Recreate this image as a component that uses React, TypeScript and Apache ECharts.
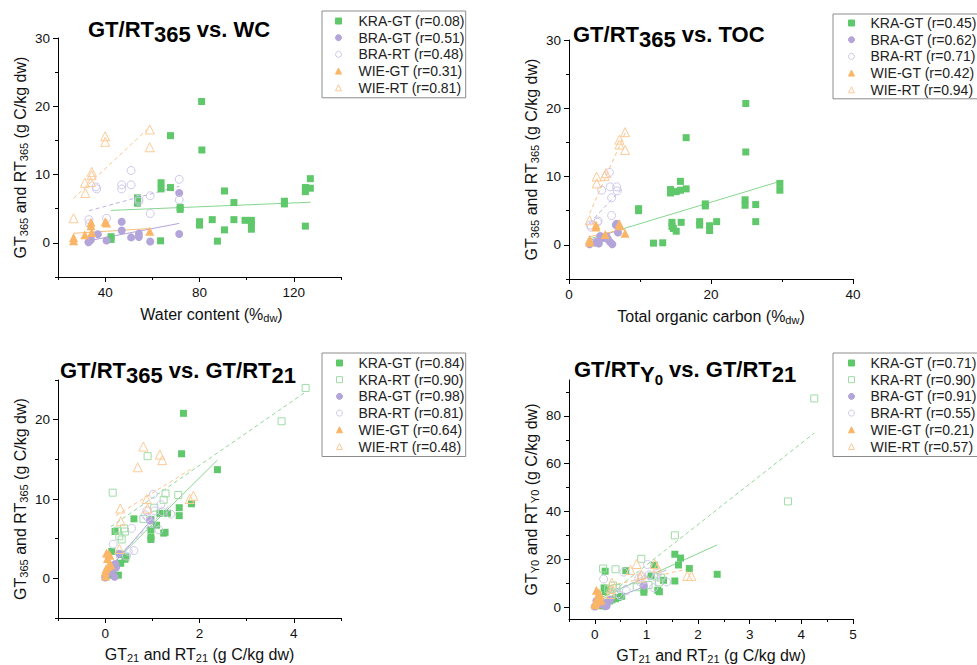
import { useEffect, useRef } from 'react';
import * as echarts from 'echarts';

// ---------- Panel A: GT/RT365 vs. water content ----------
const wcKraGT = [[42.5,0.9],[42.5,0.5],[53.7,6.6],[53.7,5.8],[63.5,0.3],[63.7,8.8],[63.7,7.9],[67.7,15.7],[67.7,8.1],[71.8,5.2],[71.8,4.9],[80.9,20.7],[81,13.6],[80,3.1],[80,2.6],[85.4,3.4],[87.6,0.25],[90.6,7.6],[90.6,1.9],[94.6,5.9],[94.6,3.4],[99.3,3.3],[102,3.3],[102,2.8],[102,2.0],[116,6.1],[116,5.7],[124.9,8.1],[124.9,7.5],[127,8.0],[127,9.4],[124.9,2.45]];
const wcBraGT = [[32.9,0.1],[33.5,0.3],[34,0.5],[36.9,1.25],[40.6,0.35],[47,3.1],[47,1.8],[51,0.8],[54.3,1.35],[54.3,0.85],[59.1,0.2],[71.4,7.3],[71.4,1.3]];
const wcBraRT = [[33.1,3.4],[33.3,2.8],[36.1,8.2],[36.4,7.9],[40.6,3.6],[47,8.5],[47,7.9],[51,10.6],[51,8.5],[54.3,6.4],[54.3,6.1],[59.1,6.9],[59.1,4.3],[71.4,9.3],[71.4,6.3]];
const wcWieGT = [[26.6,0.8],[26.6,0.3],[31.4,1.2],[34,3.0],[34,2.5],[34.3,1.5],[40,3.1],[40.6,2.9],[58.9,1.7]];
const wcWieRT = [[26.6,3.6],[31.4,8.8],[31.6,7.3],[33.9,8.9],[34.3,10.4],[34.3,9.9],[40,15.6],[40,14.8],[58.9,16.6],[58.9,14.0]];
const wcFitKraGT = [[42.4,4.75],[127.1,5.95]];
const wcFitBraGT = [[32.9,0.3],[71.4,2.85]];
const wcFitBraRT = [[33.1,4.7],[71.4,8.3]];
const wcFitWieGT = [[26.6,1.4],[59,2.1]];
const wcFitWieRT = [[26.6,6.5],[59,17]];
const wcLegend = ['KRA-GT (r=0.08)', 'BRA-GT (r=0.51)', 'BRA-RT (r=0.48)', 'WIE-GT (r=0.31)', 'WIE-RT (r=0.81)'];

// ---------- Panel B: GT/RT365 vs. TOC ----------
const tocKraGT = [[9.8,5.3],[9.8,5.0],[11.9,0.25],[13.2,0.3],[14.3,8.1],[14.3,7.6],[14.5,3.3],[14.5,2.7],[14.7,2.4],[15.1,7.8],[15.1,2.0],[15.7,9.3],[15.7,8.0],[15.8,3.3],[16.5,15.7],[16.5,8.2],[18.4,3.4],[18.4,2.9],[19.2,6.0],[19.2,5.7],[19.8,2.8],[19.8,2.1],[20.8,3.4],[24.9,20.7],[24.9,13.6],[24.8,6.6],[24.8,5.8],[26.3,5.9],[26.3,3.4],[29.7,9.0],[29.7,8.0]];
const tocBraGT = [[2.9,0.1],[3.8,0.3],[4.0,0.5],[4.4,1.3],[4.8,1.0],[5.3,1.2],[5.5,0.8],[5.8,0.4],[6.1,0.1],[6.7,3.1],[6.9,1.8],[4.2,0.2],[6.6,2.9]];
const tocBraRT = [[3.0,2.9],[3.1,2.6],[4.1,3.5],[4.0,3.3],[4.6,8.0],[5.7,10.6],[5.8,8.5],[6.0,6.9],[6.0,4.3],[6.7,8.5],[6.8,7.9]];
const tocWieGT = [[2.9,0.8],[2.9,0.4],[3.8,2.9],[3.8,2.6],[5.1,1.5],[7.1,3.1],[7.1,2.8],[7.9,1.7]];
const tocWieRT = [[2.9,3.6],[3.9,10.0],[3.9,9.0],[5.0,10.1],[5.2,10.5],[7.1,15.4],[7.1,14.7],[7.9,16.5],[7.9,13.9]];
const tocFitKraGT = [[3.0,0.9],[29.7,9.3]];
const tocFitBraGT = [[2.9,0.6],[7.0,2.2]];
const tocFitBraRT = [[2.9,3.2],[7.6,8.4]];
const tocFitWieGT = [[2.9,1.2],[7.9,2.3]];
const tocFitWieRT = [[2.9,4.6],[8.0,16.6]];
const tocLegend = ['KRA-GT (r=0.45)', 'BRA-GT (r=0.62)', 'BRA-RT (r=0.71)', 'WIE-GT (r=0.42)', 'WIE-RT (r=0.94)'];

// ---------- Panel C: GT/RT365 vs. GT/RT21 ----------
const t21KraGT = [[0.05,0.4],[0.12,1.1],[0.14,3.4],[0.21,5.9],[0.28,0.4],[0.33,1.9],[0.35,3.0],[0.42,2.4],[0.44,2.7],[0.61,7.5],[0.97,7.4],[0.97,6.1],[0.97,5.2],[0.97,4.9],[1.09,6.7],[1.16,8.2],[1.24,5.7],[1.27,5.8],[1.32,8.2],[1.57,8.9],[1.57,7.9],[1.62,15.7],[1.66,20.8],[1.83,9.4],[2.38,13.7]];
const t21KraRT = [[0.16,10.8],[0.26,6.0],[0.30,5.3],[0.35,4.9],[0.40,6.3],[0.42,5.9],[0.81,7.5],[0.90,15.4],[1.04,8.9],[1.24,9.9],[1.28,10.7],[1.55,10.5],[3.74,19.8],[4.25,24.0]];
const t21BraGT = [[0.0,0.1],[0.02,0.35],[0.03,0.5],[0.05,1.0],[0.08,0.8],[0.1,1.25],[0.14,0.85],[0.18,1.3],[0.23,1.35],[0.2,0.2],[0.3,3.1],[0.22,1.8],[0.95,7.3]];
const t21BraRT = [[0.17,4.3],[0.45,2.8],[0.49,3.4],[0.56,6.3],[0.61,3.5],[0.85,8.0],[0.88,8.5],[0.9,7.7],[1.02,10.6],[1.05,8.5],[1.14,6.1],[1.18,9.3],[1.21,8.4],[1.39,8.1],[0.98,6.9]];
const t21WieGT = [[0.03,3.2],[0.08,3.0],[0.1,2.9],[0.05,2.5],[0.12,1.7],[0.07,1.5],[0.02,1.2],[0.0,0.8],[0.01,0.3]];
const t21WieRT = [[0.30,3.7],[0.33,7.2],[0.32,8.8],[0.88,10.0],[0.9,8.8],[0.69,14.0],[0.81,16.6],[1.16,15.6],[1.21,14.9],[1.79,10.0],[1.87,10.4]];
const t21FitKraGT = [[0.05,1.2],[2.38,14.9]];
const t21FitKraRT = [[0.12,6.5],[4.25,23.5]];
const t21FitBraGT = [[0.0,0.6],[1.0,7.5]];
const t21FitBraRT = [[0.12,1.9],[1.4,9.4]];
const t21FitWieGT = [[0.0,1.0],[0.12,2.8]];
const t21FitWieRT = [[0.23,7.9],[1.88,14.0]];
const t21Legend = ['KRA-GT (r=0.84)', 'KRA-RT (r=0.90)', 'BRA-GT (r=0.98)', 'BRA-RT (r=0.81)', 'WIE-GT (r=0.64)', 'WIE-RT (r=0.48)'];

// ---------- Panel D: GT/RTY0 vs. GT/RT21 ----------
const y0KraGT = [[0.05,1.0],[0.1,2.0],[0.15,0.5],[0.2,15.0],[0.18,8.0],[0.2,6.5],[0.22,7.5],[0.28,2.5],[0.33,3.0],[0.4,3.5],[0.45,4.0],[0.52,4.5],[0.6,15.2],[0.95,7.3],[0.95,6.2],[1.09,13.0],[1.15,17.5],[1.22,7.0],[1.25,6.4],[1.33,11.2],[1.55,22.1],[1.55,10.9],[1.62,17.6],[1.66,20.5],[1.83,16.1],[2.37,13.7]];
const y0KraRT = [[0.16,16.1],[0.26,7.5],[0.30,6.0],[0.35,9.0],[0.40,15.8],[0.42,8.0],[0.81,8.3],[0.90,20.2],[1.04,9.2],[1.24,10.3],[1.28,12.3],[1.55,30.0],[3.74,44.2],[4.25,87.3]];
const y0BraGT = [[0.0,0.2],[0.02,0.5],[0.05,1.0],[0.08,1.5],[0.1,2.0],[0.12,1.2],[0.2,0.3],[0.23,0.5],[0.2,0.8],[0.3,3.0],[0.22,1.8],[0.03,2.5],[0.95,9.0]];
const y0BraRT = [[0.17,11.7],[0.45,5.5],[0.49,4.8],[0.56,14.6],[0.61,6.8],[0.85,12.0],[0.88,10.5],[0.9,13.0],[1.02,17.8],[1.05,13.5],[1.14,8.1],[1.18,12.5],[1.21,14.0],[1.39,10.5],[0.98,11.6]];
const y0WieGT = [[0.03,7.0],[0.08,6.0],[0.1,5.0],[0.05,4.0],[0.12,3.0],[0.07,2.5],[0.02,2.0],[0.0,1.5],[0.01,1.0]];
const y0WieRT = [[0.30,5.5],[0.33,10.2],[0.32,7.5],[0.88,12.3],[0.9,13.5],[0.69,15.5],[0.81,18.0],[1.16,18.0],[1.21,16.5],[1.79,13.0],[1.87,13.0]];
const y0FitKraGT = [[0.0,2.8],[2.37,26.0]];
const y0FitKraRT = [[0.16,3.3],[4.25,72.8]];
const y0FitBraGT = [[0.0,0.5],[0.95,8.5]];
const y0FitBraRT = [[0.17,5.5],[1.39,15.5]];
const y0FitWieGT = [[0.0,2.5],[0.12,3.5]];
const y0FitWieRT = [[0.3,9.0],[1.87,16.2]];
const y0Legend = ['KRA-GT (r=0.71)', 'KRA-RT (r=0.90)', 'BRA-GT (r=0.91)', 'BRA-RT (r=0.55)', 'WIE-GT (r=0.21)', 'WIE-RT (r=0.57)'];

// ---------- tick values ----------
const wcXMajor = [40, 80, 120];
const wcXMinor = [20, 60, 100, 140];
const tocXMajor = [0, 20, 40];
const tocXMinor = [10, 30];
const gt365YMajor = [0, 10, 20, 30];
const gt365YMinor = [-5, 5, 15, 25];
const t21XMajor = [0, 2, 4];
const t21XMinor = [-1, 1, 3, 5];
const t21YMajor = [0, 10, 20];
const t21YMinor = [-5, 5, 15, 25];
const y0XMajor = [0, 1, 2, 3, 4, 5];
const y0XMinor = [-0.5, 0.5, 1.5, 2.5, 3.5, 4.5];
const y0YMajor = [0, 20, 40, 60, 80];
const y0YMinor = [10, 30, 50, 70, 90];

const FONT = "'Liberation Sans', Arial, sans-serif";

const STYLES: Record<string, any> = {
  'KRA-GT': { symbol: 'rect', size: 7, fill: '#5fc86a', stroke: '#5fc86a', line: '#86d68f', dashed: false },
  'KRA-RT': { symbol: 'rect', size: 7, fill: 'rgba(255,255,255,0)', stroke: '#9fdca6', line: '#8fd897', dashed: true },
  'BRA-GT': { symbol: 'circle', size: 8, fill: '#b3a4da', stroke: '#b3a4da', line: '#b3a4da', dashed: false },
  'BRA-RT': { symbol: 'circle', size: 8, fill: 'rgba(255,255,255,0)', stroke: '#d0c8ec', line: '#bfb2e2', dashed: true },
  'WIE-GT': { symbol: 'triangle', size: 9, fill: '#fbb567', stroke: '#fbb567', line: '#fbbd78', dashed: false },
  'WIE-RT': { symbol: 'triangle', size: 9, fill: 'rgba(255,255,255,0)', stroke: '#fdca96', line: '#fcc58a', dashed: true },
};

type Group = { key: string; label: string; data: number[][]; fit: number[][] };

function groups(keys: string[], labels: string[], data: number[][][], fits: number[][][]): Group[] {
  return keys.map((k, i) => ({ key: k, label: labels[i], data: data[i], fit: fits[i] }));
}

const panels = [
  {
    grid: { left: 58, top: 38, width: 283, height: 239 },
    x: { min: 20, max: 140, major: wcXMajor, minor: wcXMinor },
    y: { min: -5, max: 30, major: gt365YMajor, minor: gt365YMinor },
    title: 'GT/RT{sub|365} vs. WC', titlePos: [88, 17],
    xName: 'Water content (%{sub|dw})', xShift: 24, xGap: 29,
    yName: 'GT{sub|365} and RT{sub|365} (g C/kg dw)',
    legend: { left: 322, top: 11, padding: [2, 1, 2, 13], textPad: 12 },
    groups: groups(['KRA-GT', 'BRA-GT', 'BRA-RT', 'WIE-GT', 'WIE-RT'], wcLegend,
      [wcKraGT, wcBraGT, wcBraRT, wcWieGT, wcWieRT],
      [wcFitKraGT, wcFitBraGT, wcFitBraRT, wcFitWieGT, wcFitWieRT]),
  },
  {
    grid: { left: 569, top: 40, width: 284, height: 239 },
    x: { min: 0, max: 40, major: tocXMajor, minor: tocXMinor },
    y: { min: -5, max: 30, major: gt365YMajor, minor: gt365YMinor },
    title: 'GT/RT{sub|365} vs. TOC', titlePos: [573, 22],
    xName: 'Total organic carbon (%{sub|dw})', xShift: 0, xGap: 29,
    yName: 'GT{sub|365} and RT{sub|365} (g C/kg dw)',
    legend: { left: 833, top: 14, padding: [1, 1, 1, 15], textPad: 11 },
    groups: groups(['KRA-GT', 'BRA-GT', 'BRA-RT', 'WIE-GT', 'WIE-RT'], tocLegend,
      [tocKraGT, tocBraGT, tocBraRT, tocWieGT, tocWieRT],
      [tocFitKraGT, tocFitBraGT, tocFitBraRT, tocFitWieGT, tocFitWieRT]),
  },
  {
    grid: { left: 58, top: 380, width: 283, height: 238 },
    x: { min: -1, max: 5, major: t21XMajor, minor: t21XMinor },
    y: { min: -5, max: 25, major: t21YMajor, minor: t21YMinor },
    title: 'GT/RT{sub|365} vs. GT/RT{sub|21}', titlePos: [60, 358],
    xName: 'GT{sub|21} and RT{sub|21} (g C/kg dw)', xShift: 0, xGap: 28,
    yName: 'GT{sub|365} and RT{sub|365} (g C/kg dw)',
    legend: { left: 322, top: 353, padding: [2, 1, 2, 14], textPad: 11 },
    groups: groups(['KRA-GT', 'KRA-RT', 'BRA-GT', 'BRA-RT', 'WIE-GT', 'WIE-RT'], t21Legend,
      [t21KraGT, t21KraRT, t21BraGT, t21BraRT, t21WieGT, t21WieRT],
      [t21FitKraGT, t21FitKraRT, t21FitBraGT, t21FitBraRT, t21FitWieGT, t21FitWieRT]),
  },
  {
    grid: { left: 569, top: 380, width: 284, height: 239 },
    x: { min: -0.5, max: 5, major: y0XMajor, minor: y0XMinor },
    y: { min: -5, max: 95, major: y0YMajor, minor: y0YMinor },
    title: 'GT/RT{sub|Y}{sub2|0} vs. GT/RT{sub|21}', titlePos: [574, 357],
    xName: 'GT{sub|21} and RT{sub|21} (g C/kg dw)', xShift: 0, xGap: 28,
    yName: 'GT{sub|Y0} and RT{sub|Y0} (g C/kg dw)',
    legend: { left: 833, top: 353, padding: [2, 1, 2, 15], textPad: 11 },
    groups: groups(['KRA-GT', 'KRA-RT', 'BRA-GT', 'BRA-RT', 'WIE-GT', 'WIE-RT'], y0Legend,
      [y0KraGT, y0KraRT, y0BraGT, y0BraRT, y0WieGT, y0WieRT],
      [y0FitKraGT, y0FitKraRT, y0FitBraGT, y0FitBraRT, y0FitWieGT, y0FitWieRT]),
  },
];

const nameRich = {
  sub: { fontSize: 11, fontFamily: FONT, color: '#111', lineHeight: 10, padding: [8, 0, 0, 0] },
};

function buildOption() {
  const grid: any[] = [];
  const xAxis: any[] = [];
  const yAxis: any[] = [];
  const series: any[] = [];
  const legend: any[] = [];
  const title: any[] = [];

  panels.forEach((p, i) => {
    grid.push({ ...p.grid, containLabel: false, outerBoundsMode: 'none' });
    const labelStyle = { fontSize: 13.5, color: '#111', fontFamily: FONT, margin: 8 };
    xAxis.push({
      type: 'value', gridIndex: i, min: p.x.min, max: p.x.max, position: 'bottom',
      axisLine: { show: true, onZero: false, lineStyle: { color: '#000', width: 1 } },
      axisTick: { show: true, length: 5, customValues: p.x.major, lineStyle: { color: '#000' } },
      axisLabel: { ...labelStyle, customValues: p.x.major },
      splitLine: { show: false },
      name: p.xName, nameLocation: 'middle', nameGap: p.xGap,
      nameTextStyle: { fontSize: 16, color: '#111', fontFamily: FONT, lineHeight: 16, padding: [0, 0, 0, p.xShift], rich: nameRich },
    });
    yAxis.push({
      type: 'value', gridIndex: i, min: p.y.min, max: p.y.max, position: 'left',
      axisLine: { show: true, onZero: false, lineStyle: { color: '#000', width: 1 } },
      axisTick: { show: true, length: 5, customValues: p.y.major, lineStyle: { color: '#000' } },
      axisLabel: { ...labelStyle, customValues: p.y.major },
      splitLine: { show: false },
      name: p.yName, nameLocation: 'middle', nameRotate: 90, nameGap: 30,
      nameTextStyle: { fontSize: 16, color: '#111', fontFamily: FONT, lineHeight: 16, rich: nameRich },
    });
    title.push({
      text: p.title, left: p.titlePos[0], top: p.titlePos[1], padding: 0,
      textStyle: {
        fontSize: 22, fontWeight: 'bold', fontFamily: FONT, color: '#000', lineHeight: 24,
        rich: {
          sub: { fontSize: 22, fontWeight: 'bold', fontFamily: FONT, color: '#000', lineHeight: 24, padding: [10, 0, 0, 0] },
          sub2: { fontSize: 15, fontWeight: 'bold', fontFamily: FONT, color: '#000', lineHeight: 16, padding: [20, 0, 0, 0] },
        },
      },
    });
    legend.push({
      show: true, orient: 'vertical', left: p.legend.left, top: p.legend.top,
      padding: p.legend.padding, itemGap: 0.7, itemWidth: 6, itemHeight: 6,
      borderColor: '#8c8c8c', borderWidth: 1, selectedMode: false,
      itemStyle: { borderWidth: 1 },
      textStyle: { fontSize: 14, color: '#222', fontFamily: FONT, lineHeight: 16, padding: [0, 0, 0, p.legend.textPad] },
      data: p.groups.map((g) => g.label),
    });
    p.groups.forEach((g) => {
      const s = STYLES[g.key];
      series.push({
        type: 'line', name: 'fit ' + g.label, xAxisIndex: i, yAxisIndex: i,
        data: g.fit, symbol: 'none', showSymbol: false, silent: true, z: 2,
        lineStyle: { color: s.line, width: 1, type: s.dashed ? [4, 3] : 'solid' },
      });
    });
    p.groups.forEach((g) => {
      const s = STYLES[g.key];
      series.push({
        type: 'scatter', name: g.label, xAxisIndex: i, yAxisIndex: i,
        data: g.data, symbol: s.symbol, symbolSize: s.size, silent: true, z: 3,
        itemStyle: { color: s.fill, borderColor: s.stroke, borderWidth: s.fill === s.stroke ? 0 : 1, opacity: 1 },
      });
    });
  });

  // minor tick overlay axes
  panels.forEach((p, i) => {
    xAxis.push({
      type: 'value', gridIndex: i, min: p.x.min, max: p.x.max, position: 'bottom',
      axisLine: { show: false, onZero: false },
      axisTick: { show: true, length: 3, customValues: p.x.minor, lineStyle: { color: '#000' } },
      axisLabel: { show: false }, splitLine: { show: false },
    });
    yAxis.push({
      type: 'value', gridIndex: i, min: p.y.min, max: p.y.max, position: 'left',
      axisLine: { show: false, onZero: false },
      axisTick: { show: true, length: 3, customValues: p.y.minor, lineStyle: { color: '#000' } },
      axisLabel: { show: false }, splitLine: { show: false },
    });
  });

  return {
    animation: false,
    backgroundColor: '#fff',
    textStyle: { fontFamily: FONT },
    title, grid, xAxis, yAxis, legend, series,
  };
}

export default function App() {
  const ref = useRef<HTMLDivElement>(null);
  useEffect(() => {
    document.body.style.margin = '0';
    const chart = echarts.init(ref.current!, undefined, { renderer: 'svg' });
    chart.setOption(buildOption() as any);
    return () => chart.dispose();
  }, []);
  return <div ref={ref} style={{ width: 977, height: 665, background: '#fff' }} />;
}
